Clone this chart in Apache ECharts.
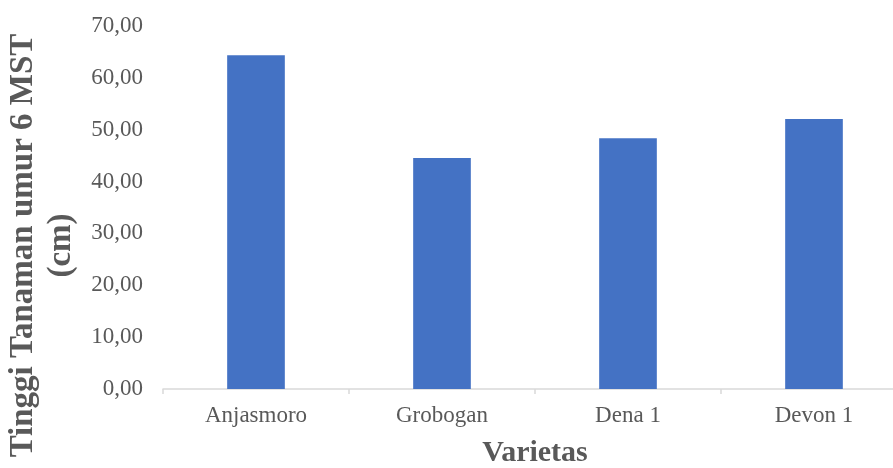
<!DOCTYPE html>
<html>
<head>
<meta charset="utf-8">
<script src="https://cdn.jsdelivr.net/npm/echarts@6/dist/echarts.min.js"></script>
<style>
  html, body { margin: 0; padding: 0; background: #ffffff; }
  #chart { width: 893px; height: 468px; }
</style>
</head>
<body>
<div id="chart"></div>
<script>
// Plant height at 6 weeks after planting, per soybean variety
const categories = ['Anjasmoro', 'Grobogan', 'Dena 1', 'Devon 1'];
const heights = [64.35, 44.54, 48.34, 52.06];
const yTicks = { min: 0, max: 70, interval: 10 };

const textGrey = '#595959';
const serif = '"Liberation Serif", "Times New Roman", serif';

const chart = echarts.init(document.getElementById('chart'));
chart.setOption({
  animation: false,
  backgroundColor: '#ffffff',
  grid: {
    left: 163, right: -14, top: 26, bottom: 79,
    containLabel: false,
    outerBoundsMode: 'none'
  },
  xAxis: {
    type: 'category',
    data: categories,
    boundaryGap: true,
    name: 'Varietas',
    nameLocation: 'middle',
    nameGap: 49,
    nameTextStyle: { fontFamily: serif, fontSize: 30, fontWeight: 'bold', color: textGrey },
    axisLine: { show: true, lineStyle: { color: '#d9d9d9', width: 1.5 } },
    axisTick: { show: true, length: 5, alignWithLabel: false, lineStyle: { color: '#d9d9d9', width: 1.5 } },
    axisLabel: { margin: 15, fontFamily: serif, fontSize: 23, color: textGrey },
    splitLine: { show: false }
  },
  yAxis: {
    type: 'value',
    min: yTicks.min,
    max: yTicks.max,
    interval: yTicks.interval,
    name: 'Tinggi Tanaman umur 6 MST\n(cm)',
    nameLocation: 'middle',
    nameGap: 79,
    nameTextStyle: {
      fontFamily: serif, fontSize: 33, fontWeight: 'bold', color: textGrey,
      lineHeight: 38, align: 'center', padding: [0, 76, 0, 0]
    },
    axisLine: { show: false },
    axisTick: { show: false },
    splitLine: { show: false },
    axisLabel: {
      margin: 20,
      fontFamily: serif, fontSize: 23, color: textGrey,
      formatter: v => v.toFixed(2).replace('.', ',')
    }
  },
  series: [{
    type: 'bar',
    data: heights,
    barWidth: '31%',
    itemStyle: { color: '#4472C4' }
  }]
});
</script>
</body>
</html>
